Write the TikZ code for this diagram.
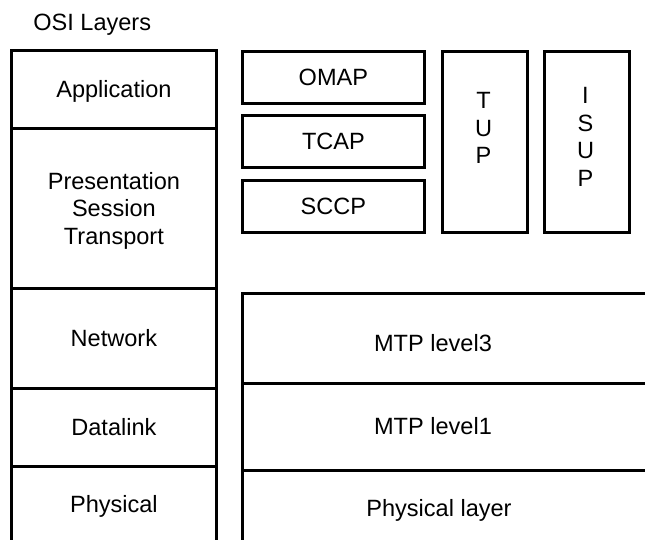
\documentclass[tikz,border=0pt]{standalone}
\usepackage{fontspec}
\setmainfont{Liberation Sans}
\usepackage{tikz}
\usetikzlibrary{positioning}
\newcommand{\pxu}{0.02cm}
\newcommand{\stackfont}{\fontsize{13.4}{15.6}\selectfont}
\tikzset{
  % outlined block of a protocol stack
  layerbox/.style={rectangle, draw=black, line width=1.6pt, inner sep=0pt,
                   anchor=north west, align=center, text depth=0pt, font=\stackfont},
  % free label set inside a block
  layertxt/.style={inner sep=0pt, align=center, text depth=0pt, font=\stackfont},
}

\begin{document}
\begin{tikzpicture}[x=\pxu, y=-\pxu]
  \useasboundingbox (0,0) rectangle (645,539);
  \clip (0,0) rectangle (645,539);
  \node[layertxt, anchor=west] (title) at (33,22) {OSI Layers};
  % OSI column
  \foreach \nm/\ytop/\hgt/\txt in {app/49/78/Application,
      pst/127/160/{Presentation\\Session\\Transport},
      net/287/100/Network, dll/387/78/Datalink, phy/465/76/Physical}
    \node[layerbox, minimum width=205*\pxu, minimum height=\hgt*\pxu]
      (\nm) at (10,\ytop) {\txt};
  % SS7 user parts
  \foreach \nm/\ytop/\txt in {omap/50/OMAP, tcap/114/TCAP, sccp/179/SCCP}
    \node[layerbox, minimum width=182*\pxu, minimum height=52*\pxu]
      (\nm) at (241,\ytop) {\txt};
  \node[layerbox, minimum width=85*\pxu, minimum height=181*\pxu] (tup) at (441,50) {};
  \node[layerbox, minimum width=85*\pxu, minimum height=181*\pxu] (isup) at (543,50) {};
  \node[layertxt] (tuptxt) at (483.5,128) {T\\U\\P};
  \node[layertxt] (isuptxt) at (585.5,137) {I\\S\\U\\P};
  % MTP rows, open to the right
  \foreach \nm/\ytop/\hgt/\tx/\ty/\txt in {mtpc/292/90/433/343/MTP level3,
      mtpa/382/87/433/426/MTP level1, phyl/469/80/439/508/Physical layer}
  {
    \node[layerbox, minimum width=430*\pxu, minimum height=\hgt*\pxu]
      (\nm) at (241,\ytop) {};
    \node[layertxt] (\nm txt) at (\tx,\ty) {\txt};
  }
\end{tikzpicture}
\end{document}
